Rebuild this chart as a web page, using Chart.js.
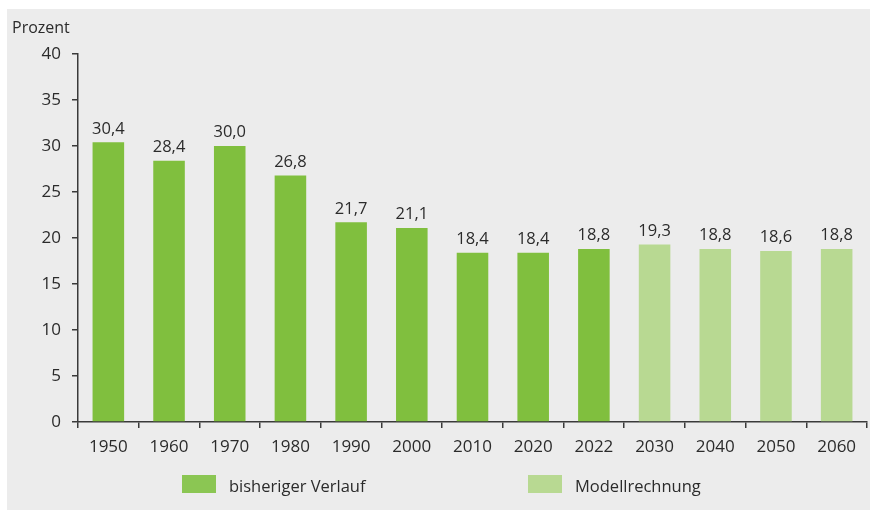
<!DOCTYPE html>
<html lang="de">
<head>
<meta charset="utf-8">
<title>Anteil in Prozent 1950–2060</title>
<script src="https://cdn.jsdelivr.net/npm/chart.js@4.4.1/dist/chart.umd.min.js"></script>
<style>
  html, body { margin: 0; padding: 0; background: #fff; }
  body { width: 870px; height: 511px; position: relative; overflow: hidden;
         font-family: "Open Sans", "Noto Sans", sans-serif; color: #2b2b2b; }
  .panel { position: absolute; left: 7px; top: 9px; right: 0; bottom: 1px; background: #ececec; }
  #chart { position: absolute; left: 0; top: 0; }
  .unit { position: absolute; left: 12px; top: 16px; font-size: 16px; line-height: 22px; }
  .legend-item { position: absolute; top: 475px; height: 18px; }
  .legend-item .box { position: absolute; left: 0; top: 0; width: 34px; height: 18px; }
  .legend-item .label { position: absolute; left: 47px; top: -1px; white-space: nowrap;
                        font-size: 16.5px; line-height: 24px; }
</style>
</head>
<body>
<div class="panel"></div>
<canvas id="chart" width="870" height="511"></canvas>
<div class="unit">Prozent</div>
<div class="legend-item" style="left:182px"><span class="box" id="swatchHistory"></span><span class="label">bisheriger Verlauf</span></div>
<div class="legend-item" style="left:528px"><span class="box" id="swatchProjection"></span><span class="label">Modellrechnung</span></div>

<script>
// Jahre auf der x-Achse
const years = ["1950", "1960", "1970", "1980", "1990", "2000", "2010", "2020", "2022", "2030", "2040", "2050", "2060"];
// bisheriger Verlauf (1950 bis 2022)
const historyValues = [30.4, 28.4, 30.0, 26.8, 21.7, 21.1, 18.4, 18.4, 18.8];
// Modellrechnung (2030 bis 2060)
const projectionValues = [19.3, 18.8, 18.6, 18.8];
const yTicks = [0, 5, 10, 15, 20, 25, 30, 35, 40];

const HISTORY_COLOR = "#80bf3e";
const PROJECTION_COLOR = "#b8d992";
const INK = "#2b2b2b";
const AXIS = "#3a3a3a";
const FONT = '"Open Sans", "Noto Sans", sans-serif';

document.getElementById("swatchHistory").style.background = "#8bc653";
document.getElementById("swatchProjection").style.background = PROJECTION_COLOR;

// Beide Reihen auf die volle Jahresliste legen, Lücken mit null
const historyData = years.map((_, i) => (i < historyValues.length ? historyValues[i] : null));
const projectionData = years.map((_, i) =>
  i >= historyValues.length ? projectionValues[i - historyValues.length] : null
);

// Werte mit Dezimalkomma über die Balken schreiben
const valueLabels = {
  id: "valueLabels",
  afterDatasetsDraw(chart) {
    const ctx = chart.ctx;
    ctx.save();
    ctx.fillStyle = INK;
    ctx.font = "16.5px " + FONT;
    ctx.textAlign = "center";
    ctx.textBaseline = "bottom";
    chart.data.datasets.forEach((ds, di) => {
      const meta = chart.getDatasetMeta(di);
      meta.data.forEach((bar, i) => {
        const v = ds.data[i];
        if (v === null || v === undefined) return;
        ctx.fillText(v.toFixed(1).replace(".", ","), bar.x, bar.y - 5);
      });
    });
    ctx.restore();
  },
};

new Chart(document.getElementById("chart"), {
  type: "bar",
  data: {
    labels: years,
    datasets: [
      {
        label: "bisheriger Verlauf",
        data: historyData,
        backgroundColor: HISTORY_COLOR,
        borderWidth: 0,
        categoryPercentage: 1,
        barPercentage: 0.52,
      },
      {
        label: "Modellrechnung",
        data: projectionData,
        backgroundColor: PROJECTION_COLOR,
        borderWidth: 0,
        categoryPercentage: 1,
        barPercentage: 0.52,
      },
    ],
  },
  options: {
    responsive: false,
    animation: false,
    layout: { padding: { top: 54, right: 3, bottom: 0, left: 0 } },
    plugins: {
      legend: { display: false },
      tooltip: { enabled: false },
    },
    scales: {
      x: {
        stacked: true,
        offset: true,
        grid: {
          offset: true,
          drawOnChartArea: false,
          drawTicks: true,
          tickLength: 6,
          color: AXIS,
          lineWidth: 1.5,
        },
        border: { display: true, color: AXIS, width: 1.5 },
        ticks: {
          color: INK,
          font: { family: FONT, size: 17 },
          padding: 9,
          maxRotation: 0,
          autoSkip: false,
        },
        afterFit(scale) {
          scale.height = 89;
        },
      },
      y: {
        stacked: true,
        min: 0,
        max: 40,
        afterBuildTicks(scale) {
          scale.ticks = yTicks.map((v) => ({ value: v }));
        },
        grid: {
          drawOnChartArea: false,
          drawTicks: true,
          tickLength: 6,
          color: AXIS,
          lineWidth: 1.5,
        },
        border: { display: true, color: AXIS, width: 1.5 },
        ticks: {
          color: INK,
          font: { family: FONT, size: 17 },
          padding: 11,
        },
        afterFit(scale) {
          scale.width = 78;
        },
      },
    },
  },
  plugins: [valueLabels],
});
</script>
</body>
</html>
